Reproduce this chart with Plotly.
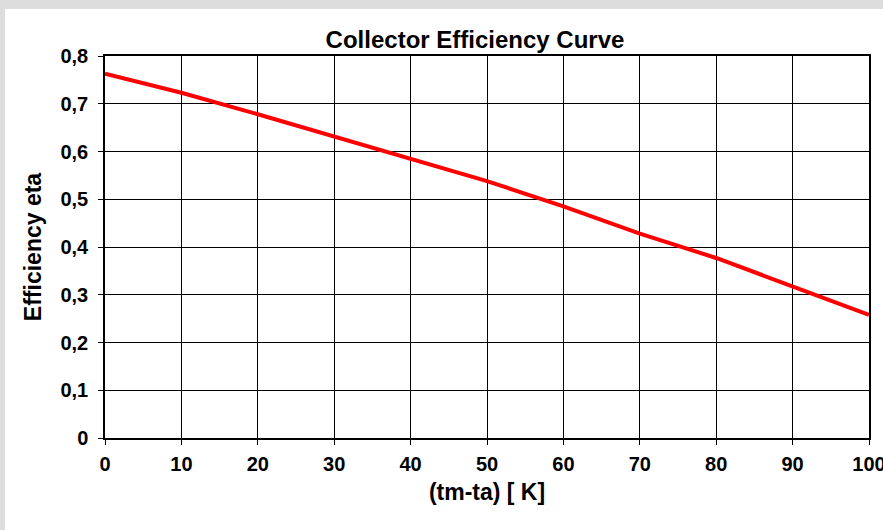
import plotly.graph_objects as go

# Data
temp_diff = [0, 10, 20, 30, 40, 50, 60, 70, 80, 90, 100]
efficiency = [0.763, 0.723, 0.678, 0.631, 0.586, 0.538, 0.485, 0.428, 0.377, 0.317, 0.258]

x_ticks = [0, 10, 20, 30, 40, 50, 60, 70, 80, 90, 100]
y_ticks = [0, 0.1, 0.2, 0.3, 0.4, 0.5, 0.6, 0.7, 0.8]
y_tick_labels = ["0", "0,1", "0,2", "0,3", "0,4", "0,5", "0,6", "0,7", "0,8"]

FONT = "Liberation Sans, Arial, sans-serif"
W, H = 883, 530
L, R, T, B = 105, 14, 56, 92
pw, ph = W - L - R, H - T - B

def px_to_paper_x(px):
    return (px - L) / pw

def px_to_paper_y(py):
    return (H - B - py) / ph

fig = go.Figure()
fig.add_trace(go.Scatter(
    x=temp_diff, y=efficiency, mode="lines",
    line=dict(color="#FF0000", width=4),
    showlegend=False, hoverinfo="skip",
))

gray = "#DDDDDD"
fig.add_shape(type="rect", xref="paper", yref="paper",
              x0=-1, x1=2, y0=px_to_paper_y(9), y1=2,
              fillcolor=gray, line=dict(width=0), layer="below")
fig.add_shape(type="rect", xref="paper", yref="paper",
              x0=-1, x1=px_to_paper_x(5), y0=-1, y1=2,
              fillcolor=gray, line=dict(width=0), layer="below")

axis_common = dict(
    showgrid=True, gridcolor="#000000", gridwidth=1,
    showline=True, linecolor="#000000", linewidth=1.5, mirror=True,
    ticks="outside", ticklen=5, tickcolor="#000000", tickwidth=1,
    zeroline=False, automargin=False, ticklabeloverflow="allow",
    tickfont=dict(family=FONT, size=20, color="#000000", weight="bold"),
)

fig.update_xaxes(
    range=[0, 100], tickvals=x_ticks,
    ticktext=[str(v) for v in x_ticks],
    ticklabelstandoff=2,
    title=dict(text="<b>(tm-ta) [ K]</b>", standoff=10,
               font=dict(family=FONT, size=23, color="#000000")),
    **axis_common,
)
fig.update_yaxes(
    range=[0, 0.8], tickvals=y_ticks, ticktext=y_tick_labels,
    ticklabelstandoff=6,
    title=dict(text="<b>Efficiency eta</b>", standoff=12,
               font=dict(family=FONT, size=23, color="#000000")),
    **axis_common,
)

fig.update_layout(
    width=W, height=H,
    margin=dict(l=L, r=R, t=T, b=B, autoexpand=False),
    paper_bgcolor="#FFFFFF", plot_bgcolor="#FFFFFF",
    separators=", ",
    title=dict(text="<b>Collector Efficiency Curve</b>",
               x=475 / W, xanchor="center", xref="container",
               y=1 - 40 / H, yanchor="middle", yref="container",
               font=dict(family=FONT, size=24, color="#000000")),
)

fig.write_html(
    "out.html",
    config={"displayModeBar": False},
    post_script="document.body.style.margin='0';document.body.style.overflow='hidden';",
)
